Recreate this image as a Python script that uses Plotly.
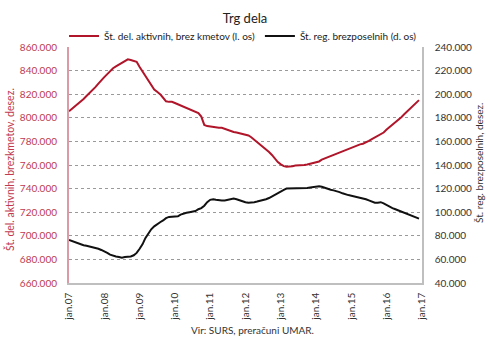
import plotly.graph_objects as go
import pandas as pd

# Monthly data, jan 2007 - dec 2016 (thousands)
aktivni = [
    805.5, 807.5, 809.5, 811.5, 814, 816, 818.5, 821, 823, 826, 829, 832,
    834.5, 837, 839.5, 842, 843.5, 845, 846, 847.5, 849.5, 849, 848.5, 847.5,
    843, 839, 835, 831, 827, 824, 822, 820, 817, 814, 813.5, 813.5,
    812.5, 811.5, 810, 809, 808, 807, 806, 805.5, 804, 801, 794, 793,
    792.5, 792, 791.5, 791.5, 791.5, 790.5, 789.5, 788.5, 788, 787.5, 787, 786.5,
    786, 785, 783.5, 781.5, 779.5, 777.5, 775, 773, 771, 768.5, 765.5, 762.5,
    760.5, 759, 758.5, 758.5, 759, 759.5, 759.5, 759.5, 760, 760.5, 761, 761.5,
    762, 763, 764.5, 765.5, 766.5, 767.5, 768.5, 769.5, 771, 772, 773, 774,
    775, 776, 776.5, 777.5, 778, 779, 780.5, 782, 783.5, 785, 786, 787.5,
    790, 792, 794, 796, 798, 800.5, 803, 805.5, 807.5, 810, 812.5, 815,
]
brezposelni = [
    76.5, 75.5, 74.5, 73.5, 72.5, 72, 71.5, 71, 70, 69.5, 69, 68,
    67, 65.5, 64, 63, 62.5, 62, 61.5, 62, 62, 62.5, 63.5, 65.5,
    69, 73, 78, 82, 85.5, 88, 90, 91.5, 93, 95, 96, 96,
    96, 96.5, 98, 99, 99.5, 100, 100.5, 101, 102.5, 103.5, 105.5, 108.5,
    110.5, 111, 110.5, 110, 110, 110, 110.5, 111.5, 111.5, 111, 110, 109.5,
    108.5, 108, 108, 108.5, 109, 109.5, 110, 111, 112, 113.5, 115, 116.5,
    117.5, 119, 120, 120, 120, 120.5, 120.5, 120.5, 120.5, 120.5, 121, 121.5,
    121.5, 122, 121.5, 120.5, 119.5, 119, 118.5, 118, 117, 116, 115, 114.5,
    114, 113.5, 113, 112.5, 112, 111, 110, 109, 108, 108, 108.5, 107.5,
    106, 104.5, 103.5, 102.5, 101.5, 100.5, 99.5, 98.5, 97.5, 96.5, 95.5, 94.5,
]
tick_labels = ["jan.07", "jan.08", "jan.09", "jan.10", "jan.11", "jan.12",
               "jan.13", "jan.14", "jan.15", "jan.16", "jan.17"]
left_ticks = list(range(660, 861, 20))
right_ticks = list(range(40, 241, 20))

dates = pd.date_range("2007-01-01", periods=len(aktivni), freq="MS")
tick_dates = pd.date_range("2007-01-01", periods=len(tick_labels), freq="12MS")

RED = "#b0152a"
LABEL_RED = "#c0394f"
FONT = "Lato"

fig = go.Figure()
fig.add_trace(go.Scatter(
    x=dates, y=[v * 1000 for v in aktivni], mode="lines",
    name="Št. del. aktivnih, brez kmetov (l. os)",
    line=dict(color=RED, width=2)))
fig.add_trace(go.Scatter(
    x=dates, y=[v * 1000 for v in brezposelni], mode="lines",
    name="Št. reg. brezposelnih (d. os)", yaxis="y2",
    line=dict(color="#111111", width=2)))

fig.update_layout(
    width=490, height=345,
    margin=dict(l=69, r=68, t=47, b=62, autoexpand=False),
    paper_bgcolor="white", plot_bgcolor="white",
    separators=",.",
    font=dict(family=FONT, size=10, color="#333333"),
    title=dict(text="Trg dela", x=0.5, xanchor="center", xref="container",
               y=1 - 18 / 345, yanchor="middle", yref="container",
               font=dict(family=FONT, size=13, color="#222222")),
    legend=dict(orientation="h", xref="container", yref="container",
                x=0.496, xanchor="center", y=1 - 36 / 345, yanchor="middle",
                font=dict(family=FONT, size=10, color="#222222"),
                bgcolor="rgba(0,0,0,0)", itemwidth=30, tracegroupgap=0),
    xaxis=dict(
        type="date",
        range=[tick_dates[0], tick_dates[-1]],
        tickvals=list(tick_dates), ticktext=tick_labels,
        tickangle=-90, showgrid=False,
        showline=True, linecolor="#bfbfbf", linewidth=1.5,
        ticks="outside", ticklen=4, tickcolor="rgba(0,0,0,0)",
        tickfont=dict(family=FONT, size=10, color="#333333"),
        zeroline=False, automargin=False,
    ),
    yaxis=dict(
        range=[660000, 860000],
        tickvals=[v * 1000 for v in left_ticks], tickformat=",.0f",
        showgrid=True, gridcolor="#9a9a9a", griddash="dot", gridwidth=1,
        showline=True, linecolor="#dc9aa6", linewidth=2,
        ticks="outside", ticklen=8, tickcolor="rgba(0,0,0,0)",
        tickfont=dict(family=FONT, size=10, color=LABEL_RED),
        zeroline=False, automargin=False,
    ),
    yaxis2=dict(
        overlaying="y", side="right",
        range=[40000, 240000],
        tickvals=[v * 1000 for v in right_ticks], tickformat=",.0f",
        showgrid=False,
        showline=True, linecolor="#bfbfbf", linewidth=1.5,
        ticks="outside", ticklen=9, tickcolor="rgba(0,0,0,0)",
        tickfont=dict(family=FONT, size=10, color="#333333"),
        zeroline=False, automargin=False,
    ),
    annotations=[
        dict(text="Št. del. aktivnih, brezkmetov, desez.", xref="paper", yref="paper",
             x=(9 - 69) / 353, y=(283 - 170) / 236, xanchor="center", yanchor="middle",
             textangle=-90, showarrow=False,
             font=dict(family=FONT, size=10.5, color=LABEL_RED)),
        dict(text="Št. reg. brezposelnih, desez.", xref="paper", yref="paper",
             x=(479 - 69) / 353, y=(283 - 163) / 236, xanchor="center", yanchor="middle",
             textangle=-90, showarrow=False,
             font=dict(family=FONT, size=10, color="#333333")),
        dict(text="Vir: SURS, preračuni UMAR.", xref="paper", yref="paper",
             x=(252 - 69) / 353, y=(283 - 330) / 236, xanchor="center", yanchor="middle",
             showarrow=False, font=dict(family=FONT, size=10, color="#333333")),
    ],
)

fig.write_html("out.html")
